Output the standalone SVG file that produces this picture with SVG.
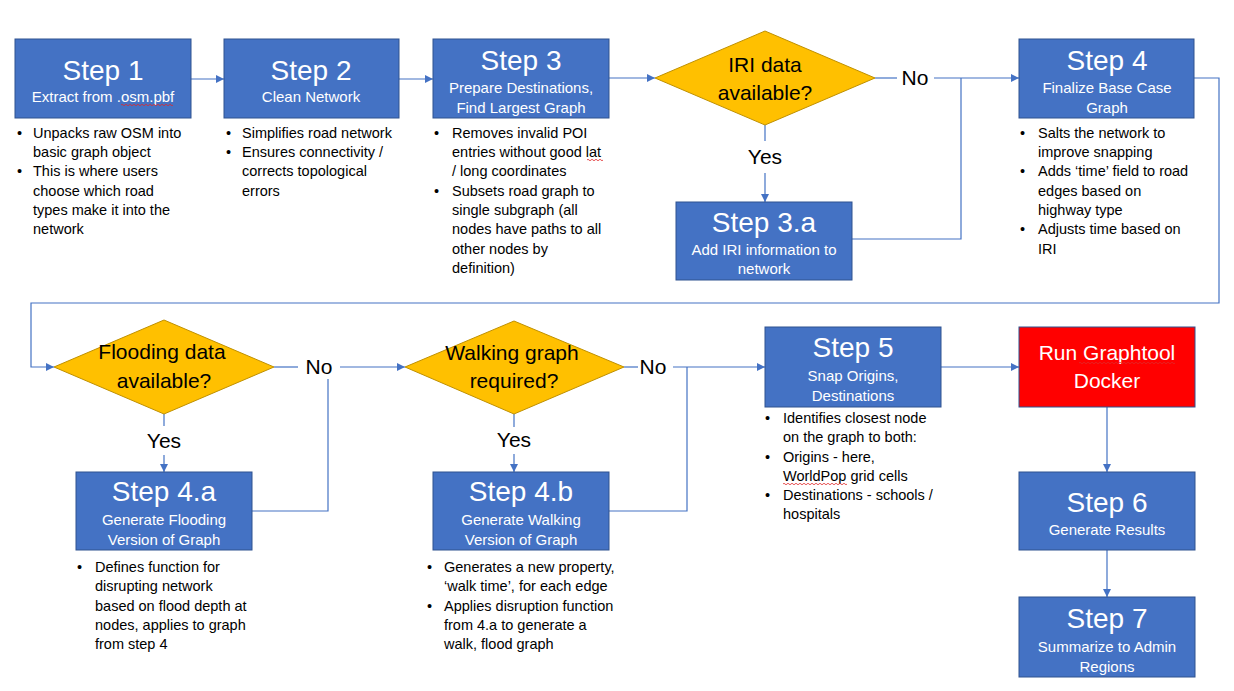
<svg xmlns="http://www.w3.org/2000/svg" width="1234" height="691" viewBox="0 0 1234 691">
<defs>
<style>
.box{fill:#4472C4;stroke:#2F528F;stroke-width:1}
.red{fill:#FF0000;stroke:#2F528F;stroke-width:1}
.dia{fill:#FFC000;stroke:#BF9000;stroke-width:1}
.t{font-family:"Liberation Sans",Arial,sans-serif;fill:#fff;text-anchor:middle;font-size:28px}
.s{font-family:"Liberation Sans",Arial,sans-serif;fill:#fff;text-anchor:middle;font-size:15px}
.d{font-family:"Liberation Sans",Arial,sans-serif;fill:#000;text-anchor:middle;font-size:21px}
.rt{font-family:"Liberation Sans",Arial,sans-serif;fill:#fff;text-anchor:middle;font-size:21px}
.b{font-family:"Liberation Sans",Arial,sans-serif;fill:#000;font-size:14.5px}
.c{fill:none;stroke:#4472C4;stroke-width:1.2}
.sq{fill:none;stroke:#E0292B;stroke-width:0.8}
</style>
<marker id="ah" viewBox="0 0 10 10" refX="10" refY="5" markerWidth="8" markerHeight="10" markerUnits="userSpaceOnUse" orient="auto">
<path d="M0,0 L10,5 L0,10 z" fill="#4472C4"/>
</marker>
</defs>
<rect width="1234" height="691" fill="#fff"/>

<g id="connectors">
<path class="c" d="M191,79 H224" marker-end="url(#ah)"/>
<path class="c" d="M399,79 H433" marker-end="url(#ah)"/>
<path class="c" d="M609,78 H655" marker-end="url(#ah)"/>
<path class="c" d="M875,78 H897"/>
<path class="c" d="M934,78 H1019" marker-end="url(#ah)"/>
<path class="c" d="M852,239 H961 V78"/>
<path class="c" d="M765,125 V141"/>
<path class="c" d="M765,173 V202" marker-end="url(#ah)"/>
<path class="c" d="M1194,78 H1219 V303 H31 V367 H54" marker-end="url(#ah)"/>
<path class="c" d="M274,367 H298"/>
<path class="c" d="M340,367 H405" marker-end="url(#ah)"/>
<path class="c" d="M164,414 V426"/>
<path class="c" d="M164,455 V472" marker-end="url(#ah)"/>
<path class="c" d="M252,511 H328 V379"/>
<path class="c" d="M624,367 H638"/>
<path class="c" d="M673,367 H765" marker-end="url(#ah)"/>
<path class="c" d="M514,414 V427"/>
<path class="c" d="M514,454 V472" marker-end="url(#ah)"/>
<path class="c" d="M609,511 H687 V367"/>
<path class="c" d="M941,367 H1019" marker-end="url(#ah)"/>
<path class="c" d="M1107,407 V472" marker-end="url(#ah)"/>
<path class="c" d="M1107,550 V597" marker-end="url(#ah)"/>
<text class="d" x="915" y="85">No</text>
<text class="d" x="765" y="164">Yes</text>
<text class="d" x="319" y="374">No</text>
<text class="d" x="164" y="448">Yes</text>
<text class="d" x="653" y="374">No</text>
<text class="d" x="514" y="447">Yes</text>
</g>

<g id="step1">
<rect class="box" x="15" y="39" width="176" height="79"/>
<text class="t" x="103" y="80">Step 1</text>
<text class="s" x="103" y="102">Extract from .osm.pbf</text>
<path class="sq" d="M121,105 q1,-1.5 2,0 t2,0 t2,0 t2,0 t2,0 t2,0 t2,0 t2,0 t2,0 t2,0 t2,0 t2,0 t2,0 t2,0 t2,0 t2,0 t2,0 t2,0 t2,0 t2,0 t2,0 t2,0 t2,0 t2,0 t2,0 t2,0"/>
<text class="b"><tspan x="17" y="138">•</tspan><tspan x="33" y="138">Unpacks raw OSM into</tspan><tspan x="33" y="157">basic graph object</tspan><tspan x="17" y="176">•</tspan><tspan x="33" y="176">This is where users</tspan><tspan x="33" y="196">choose which road</tspan><tspan x="33" y="215">types make it into the</tspan><tspan x="33" y="234">network</tspan></text>
</g>

<g id="step2">
<rect class="box" x="224" y="39" width="175" height="79"/>
<text class="t" x="311" y="80">Step 2</text>
<text class="s" x="311" y="102">Clean Network</text>
<text class="b"><tspan x="226" y="138">•</tspan><tspan x="242" y="138">Simplifies road network</tspan><tspan x="226" y="157">•</tspan><tspan x="242" y="157">Ensures connectivity /</tspan><tspan x="242" y="176">corrects topological</tspan><tspan x="242" y="196">errors</tspan></text>
</g>

<g id="step3">
<rect class="box" x="433" y="39" width="176" height="79"/>
<text class="t" x="521" y="70">Step 3</text>
<text class="s" x="521" y="93">Prepare Destinations,</text>
<text class="s" x="521" y="113">Find Largest Graph</text>
<text class="b"><tspan x="434" y="138">•</tspan><tspan x="452" y="138">Removes invalid POI</tspan><tspan x="452" y="157">entries without good lat</tspan><tspan x="452" y="176">/ long coordinates</tspan><tspan x="434" y="196">•</tspan><tspan x="452" y="196">Subsets road graph to</tspan><tspan x="452" y="215">single subgraph (all</tspan><tspan x="452" y="234">nodes have paths to all</tspan><tspan x="452" y="254">other nodes by</tspan><tspan x="452" y="273">definition)</tspan></text>
<path class="sq" d="M587,160 q1,-1.5 2,0 t2,0 t2,0 t2,0 t2,0 t2,0 t2,0 t2,0"/>
</g>

<g id="iri">
<polygon class="dia" points="655,78 765,31 875,78 765,125"/>
<text class="d" x="765" y="72">IRI data</text>
<text class="d" x="765" y="100">available?</text>
</g>

<g id="step3a">
<rect class="box" x="676" y="202" width="176" height="78"/>
<text class="t" x="764" y="232">Step 3.a</text>
<text class="s" x="764" y="255">Add IRI information to</text>
<text class="s" x="764" y="274">network</text>
</g>

<g id="step4">
<rect class="box" x="1019" y="39" width="175" height="79"/>
<text class="t" x="1107" y="70">Step 4</text>
<text class="s" x="1107" y="93">Finalize Base Case</text>
<text class="s" x="1107" y="113">Graph</text>
<text class="b"><tspan x="1020" y="138">•</tspan><tspan x="1038" y="138">Salts the network to</tspan><tspan x="1038" y="157">improve snapping</tspan><tspan x="1020" y="176">•</tspan><tspan x="1038" y="176">Adds ‘time’ field to road</tspan><tspan x="1038" y="196">edges based on</tspan><tspan x="1038" y="215">highway type</tspan><tspan x="1020" y="234">•</tspan><tspan x="1038" y="234">Adjusts time based on</tspan><tspan x="1038" y="254">IRI</tspan></text>
</g>

<g id="flooding">
<polygon class="dia" points="54,367 164,320 274,367 164,414"/>
<text class="d" x="162" y="359">Flooding data</text>
<text class="d" x="164" y="388">available?</text>
</g>

<g id="step4a">
<rect class="box" x="76" y="472" width="176" height="78"/>
<text class="t" x="164" y="501">Step 4.a</text>
<text class="s" x="164" y="525">Generate Flooding</text>
<text class="s" x="164" y="545">Version of Graph</text>
<text class="b"><tspan x="77" y="572">•</tspan><tspan x="95" y="572">Defines function for</tspan><tspan x="95" y="591">disrupting network</tspan><tspan x="95" y="611">based on flood depth at</tspan><tspan x="95" y="630">nodes, applies to graph</tspan><tspan x="95" y="649">from step 4</tspan></text>
</g>

<g id="walking">
<polygon class="dia" points="405,367 514,321 624,367 514,414"/>
<text class="d" x="512" y="360">Walking graph</text>
<text class="d" x="514" y="388">required?</text>
</g>

<g id="step4b">
<rect class="box" x="433" y="472" width="176" height="78"/>
<text class="t" x="521" y="501">Step 4.b</text>
<text class="s" x="521" y="525">Generate Walking</text>
<text class="s" x="521" y="545">Version of Graph</text>
<text class="b"><tspan x="427" y="572">•</tspan><tspan x="444" y="572">Generates a new property,</tspan><tspan x="444" y="591">‘walk time’, for each edge</tspan><tspan x="427" y="611">•</tspan><tspan x="444" y="611">Applies disruption function</tspan><tspan x="444" y="630">from 4.a to generate a</tspan><tspan x="444" y="649">walk, flood graph</tspan></text>
</g>

<g id="step5">
<rect class="box" x="765" y="327" width="176" height="80"/>
<text class="t" x="853" y="357">Step 5</text>
<text class="s" x="853" y="381">Snap Origins,</text>
<text class="s" x="853" y="401">Destinations</text>
<text class="b"><tspan x="765" y="423">•</tspan><tspan x="783" y="423">Identifies closest node</tspan><tspan x="783" y="442">on the graph to both:</tspan><tspan x="765" y="462">•</tspan><tspan x="783" y="462">Origins - here,</tspan><tspan x="783" y="481">WorldPop grid cells</tspan><tspan x="765" y="500">•</tspan><tspan x="783" y="500">Destinations - schools /</tspan><tspan x="783" y="519">hospitals</tspan></text>
<path class="sq" d="M783,484 q1,-1.5 2,0 t2,0 t2,0 t2,0 t2,0 t2,0 t2,0 t2,0 t2,0 t2,0 t2,0 t2,0 t2,0 t2,0 t2,0 t2,0 t2,0 t2,0 t2,0 t2,0 t2,0 t2,0 t2,0 t2,0 t2,0 t2,0 t2,0 t2,0 t2,0 t2,0 t2,0 t2,0"/>
</g>

<g id="docker">
<rect class="red" x="1019" y="327" width="176" height="80"/>
<text class="rt" x="1107" y="360">Run Graphtool</text>
<text class="rt" x="1107" y="388">Docker</text>
<path class="sq" d="M1079,363 q1,-1.5 2,0 t2,0 t2,0 t2,0 t2,0 t2,0 t2,0 t2,0 t2,0 t2,0 t2,0 t2,0 t2,0 t2,0 t2,0 t2,0 t2,0 t2,0 t2,0 t2,0 t2,0 t2,0 t2,0 t2,0 t2,0 t2,0 t2,0 t2,0 t2,0 t2,0 t2,0 t2,0 t2,0 t2,0 t2,0 t2,0 t2,0 t2,0 t2,0 t2,0 t2,0 t2,0 t2,0 t2,0 t2,0 t2,0 t2,0 t2,0"/>
</g>

<g id="step6">
<rect class="box" x="1019" y="472" width="176" height="78"/>
<text class="t" x="1107" y="512">Step 6</text>
<text class="s" x="1107" y="535">Generate Results</text>
</g>

<g id="step7">
<rect class="box" x="1019" y="597" width="176" height="80"/>
<text class="t" x="1107" y="628">Step 7</text>
<text class="s" x="1107" y="652">Summarize to Admin</text>
<text class="s" x="1107" y="672">Regions</text>
</g>
</svg>
